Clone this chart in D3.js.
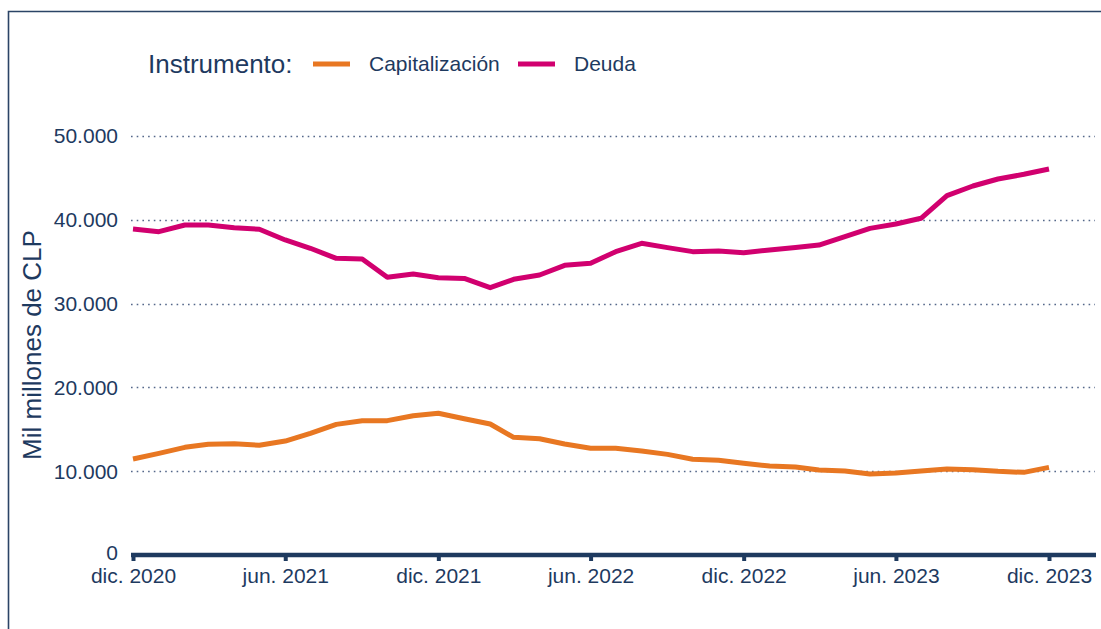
<!DOCTYPE html>
<meta charset="utf-8">
<style>
body { margin: 0; background: #fff; }
svg text { font-family: 'Liberation Sans', Arial, sans-serif; fill: #1e3a5f; }
.grid line { stroke: #55688a; stroke-width: 1.6px; stroke-dasharray: 1.6,4.1; }
.series { fill: none; stroke-width: 5px; stroke-linejoin: round; }
</style>
<body>
<svg width="1101" height="629"></svg>
</body>
<script src="https://d3js.org/d3.v7.min.js"></script>
<script>

// monthly, dic. 2020 .. dic. 2023
var startMonth = new Date(2020, 11, 1);

var capitalizacion = [
  11460, 12130, 12850, 13210, 13280, 13090, 13600, 14520, 15590, 16030,
  16030, 16620, 16910, 16260, 15630, 14040, 13880, 13250, 12730, 12730,
  12410, 12010, 11420, 11300, 10940, 10620, 10500, 10140, 10020, 9670,
  9790, 10020, 10260, 10180, 9980, 9860, 10460
];

var deuda = [
  38900, 38580, 39380, 39380, 39060, 38870, 37590, 36600, 35400, 35320,
  33140, 33530, 33090, 33010, 31900, 32900, 33410, 34570, 34810, 36200,
  37200, 36680, 36200, 36280, 36080, 36400, 36700, 36990, 37990, 38980,
  39500, 40180, 42880, 44030, 44870, 45430, 46060
];

var yTicks = [0, 10000, 20000, 30000, 40000, 50000];
var xTickMonths = [0, 6, 12, 18, 24, 30, 36];
var mesesAbrev = ["ene.", "feb.", "mar.", "abr.", "may.", "jun.", "jul.", "ago.", "sept.", "oct.", "nov.", "dic."];

var seriesNames = ["Capitalización", "Deuda"];
var seriesColors = ["#e87722", "#d1006f"];

(function() {
  var svg = d3.select("svg"),
      width = +svg.attr("width"),
      height = +svg.attr("height");

  var navy = "#1e3a5f";

  // frame
  svg.append("path")
      .attr("d", "M8.5," + height + "V11.5H" + width)
      .attr("fill", "none")
      .attr("stroke", "#2b4466")
      .attr("stroke-width", 1.6);

  var dates = capitalizacion.map(function(d, i) { return d3.timeMonth.offset(startMonth, i); });

  var x = d3.scaleTime()
      .domain([dates[0], dates[dates.length - 1]])
      .range([133, 1049]);

  var y = d3.scaleLinear()
      .domain([0, 50000])
      .range([555, 136]);

  var fmt = function(v) { return d3.format(",")(v).replace(/,/g, "."); };

  // grid
  svg.append("g")
      .attr("class", "grid")
    .selectAll("line")
    .data(yTicks.filter(function(d) { return d > 0; }))
    .enter().append("line")
      .attr("x1", 131)
      .attr("x2", 1095)
      .attr("y1", function(d) { return Math.round(y(d)) + 0.5; })
      .attr("y2", function(d) { return Math.round(y(d)) + 0.5; });

  // y labels
  svg.append("g")
    .selectAll("text")
    .data(yTicks)
    .enter().append("text")
      .attr("x", 118)
      .attr("y", function(d) { return d === 0 ? y(d) - 2 : y(d); })
      .attr("dy", "0.35em")
      .attr("text-anchor", "end")
      .attr("font-size", 21)
      .text(fmt);

  // y title
  svg.append("text")
      .attr("transform", "translate(41,345) rotate(-90)")
      .attr("text-anchor", "middle")
      .attr("font-size", 26)
      .text("Mil millones de CLP");

  // x axis
  var xAxis = d3.axisBottom(x)
      .tickValues(xTickMonths.map(function(m) { return dates[m]; }))
      .tickSize(6)
      .tickFormat(function(d) { return mesesAbrev[d.getMonth()] + " " + d.getFullYear(); });

  var gx = svg.append("g")
      .attr("transform", "translate(0," + y(0) + ")")
      .call(xAxis);
  gx.select(".domain").remove();
  gx.selectAll(".tick line").attr("stroke", navy).attr("stroke-width", 4);
  gx.selectAll(".tick text")
      .attr("fill", navy)
      .attr("font-size", 21)
      .attr("font-family", "'Liberation Sans', Arial, sans-serif")
      .attr("y", 13);
  gx.append("line")
      .attr("x1", 131)
      .attr("x2", 1096)
      .attr("stroke", navy)
      .attr("stroke-width", 4.5);

  // lines
  var line = d3.line()
      .x(function(d, i) { return x(dates[i]); })
      .y(function(d) { return y(d); });

  [capitalizacion, deuda].forEach(function(s, i) {
    svg.append("path")
        .datum(s)
        .attr("class", "series")
        .attr("stroke", seriesColors[i])
        .attr("d", line);
  });

  // legend
  var legend = svg.append("g");
  legend.append("text")
      .attr("x", 148)
      .attr("y", 73)
      .attr("font-size", 26)
      .text("Instrumento:");

  var legendX = [313, 518];
  seriesNames.forEach(function(name, i) {
    legend.append("line")
        .attr("x1", legendX[i])
        .attr("x2", legendX[i] + 37)
        .attr("y1", 64)
        .attr("y2", 64)
        .attr("stroke", seriesColors[i])
        .attr("stroke-width", 5);
    legend.append("text")
        .attr("x", legendX[i] + 56)
        .attr("y", 71)
        .attr("font-size", 21)
        .text(name);
  });
})();

</script>
